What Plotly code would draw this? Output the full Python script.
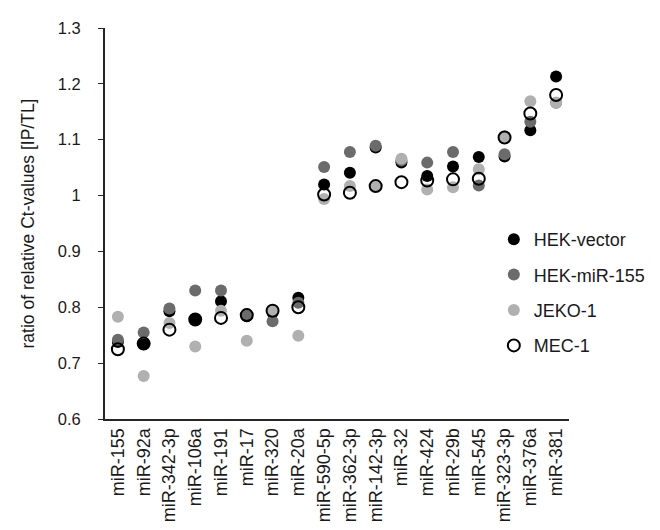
import plotly.graph_objects as go

categories = ["miR-155", "miR-92a", "miR-342-3p", "miR-106a", "miR-191", "miR-17",
              "miR-320", "miR-20a", "miR-590-5p", "miR-362-3p", "miR-142-3p", "miR-32",
              "miR-424", "miR-29b", "miR-545", "miR-323-3p", "miR-376a", "miR-381"]

hek_vector = [0.738, 0.734, 0.793, 0.779, 0.811, 0.784, 0.790, 0.817, 1.020, 1.041,
              1.086, 1.059, 1.035, 1.052, 1.069, 1.070, 1.117, 1.213]
hek_mir155 = [0.742, 0.755, 0.798, 0.830, 0.830, 0.788, 0.775, 0.808, 1.051, 1.078,
              1.089, 1.063, 1.059, 1.078, 1.018, 1.074, 1.132, 1.166]
jeko1 = [0.783, 0.677, 0.772, 0.730, 0.794, 0.740, 0.794, 0.749, 0.994, 1.017,
         1.017, 1.066, 1.011, 1.015, 1.047, 1.106, 1.169, 1.166]
mec1 = [0.725, 0.735, 0.760, 0.778, 0.781, 0.786, 0.794, 0.800, 1.002, 1.005,
        1.017, 1.024, 1.027, 1.029, 1.030, 1.104, 1.147, 1.180]

series_names = ["HEK-vector", "HEK-miR-155", "JEKO-1", "MEC-1"]
y_tickvals = [0.6, 0.7, 0.8, 0.9, 1.0, 1.1, 1.2, 1.3]
y_ticktext = ["0.6", "0.7", "0.8", "0.9", "1", "1.1", "1.2", "1.3"]

FONT = "Liberation Sans, Arial, sans-serif"
fig = go.Figure()

styles = [
    dict(color="#000000", line=dict(width=0)),
    dict(color="#6b6b6b", line=dict(width=0)),
    dict(color="#b0b0b0", line=dict(width=0)),
    dict(color="rgba(0,0,0,0)", line=dict(width=2, color="#000000")),
]
for name, vals, st in zip(series_names, [hek_vector, hek_mir155, jeko1, mec1], styles):
    fig.add_trace(go.Scatter(
        x=categories, y=vals, mode="markers", name=name, legendgroup=name,
        marker=dict(size=12, symbol="circle", **st),
    ))

fig.update_layout(
    width=660, height=530,
    margin=dict(l=97, r=99, t=20, b=119, autoexpand=False),
    paper_bgcolor="white", plot_bgcolor="white",
    font=dict(family=FONT, size=17, color="#1a1a1a"),
    showlegend=True,
    legend=dict(x=0.838, y=0.3235, xanchor="left", yanchor="middle",
                font=dict(family=FONT, size=18, color="#1a1a1a"),
                tracegroupgap=9, bgcolor="rgba(0,0,0,0)"),
    xaxis=dict(type="category", range=[-0.5, 17.5], tickangle=-90,
               showgrid=False, showline=True, linecolor="#262626", linewidth=2,
               ticks="", tickfont=dict(size=18), zeroline=False, automargin=False),
    yaxis=dict(range=[0.6, 1.3], tickvals=y_tickvals, ticktext=y_ticktext,
               showgrid=False, showline=True, linecolor="#262626", linewidth=2,
               ticks="outside", ticklen=5, tickcolor="#262626", tickwidth=1,
               ticklabelstandoff=14,
               tickfont=dict(size=16.5), zeroline=False, automargin=False,
               title=dict(text="ratio of relative Ct-values [IP/TL]",
                          font=dict(size=17.5), standoff=19)),
)

fig.write_html("out.html")
